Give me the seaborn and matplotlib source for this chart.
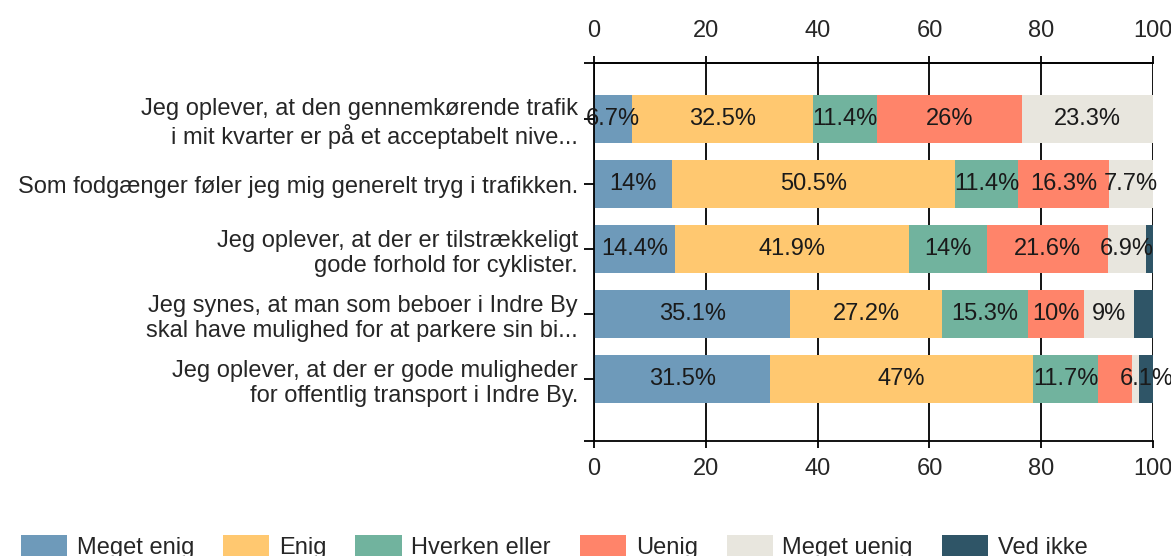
import numpy as np
import pandas as pd
import matplotlib.pyplot as plt
import seaborn as sns

# Survey statements (top to bottom)
questions = [
    "Jeg oplever, at den gennemkørende trafik\ni mit kvarter er på et acceptabelt nive...",
    "Som fodgænger føler jeg mig generelt tryg i trafikken.",
    "Jeg oplever, at der er tilstrækkeligt\ngode forhold for cyklister.",
    "Jeg synes, at man som beboer i Indre By\nskal have mulighed for at parkere sin bi...",
    "Jeg oplever, at der er gode muligheder\nfor offentlig transport i Indre By.",
]
answers = ["Meget enig", "Enig", "Hverken eller", "Uenig", "Meget uenig", "Ved ikke"]
colors = ["#6e9aba", "#ffc870", "#71b39e", "#ff846a", "#e8e6de", "#2f5567"]

# Percentages per answer (one value per statement)
meget_enig = [6.7, 14, 14.4, 35.1, 31.5]
enig = [32.5, 50.5, 41.9, 27.2, 47]
hverken = [11.4, 11.4, 14, 15.3, 11.7]
uenig = [26, 16.3, 21.6, 10, 6.1]
meget_uenig = [23.3, 7.7, 6.9, 9, 1.2]
ved_ikke = [0.4, 0.4, 1.3, 3.4, 2.5]

values = np.array([meget_enig, enig, hverken, uenig, meget_uenig, ved_ikke]).T
cum = values.cumsum(axis=1)

sns.set_style("white")
plt.rcParams["font.family"] = ["Liberation Sans", "DejaVu Sans"]
FS = 17

fig = plt.figure(figsize=(11.71, 5.56), dpi=100)
ax = fig.add_axes([0.5073, 0.2068, 0.4774, 0.68])

# stacked bars: draw cumulative totals from the last layer to the first
for i in range(len(answers) - 1, -1, -1):
    df = pd.DataFrame({"question": questions, "value": cum[:, i]})
    sns.barplot(data=df, x="value", y="question", color=colors[i], saturation=1,
                width=0.74, errorbar=None, linewidth=0, ax=ax, label=answers[i], zorder=2)

handles, labels = ax.get_legend_handles_labels()
if ax.legend_ is not None:
    ax.legend_.remove()

# value labels centred in segments
for r in range(len(questions)):
    for i in range(len(answers)):
        v = values[r, i]
        if v < 5:
            continue
        xc = cum[r, i] - v / 2
        if r == 4 and i == 3:
            xc += 5.6  # label nudged right in the original
        ax.text(xc, r, f"{v:g}%", ha="center", va="center", fontsize=FS,
                color="#1a1a1a", zorder=3, clip_on=False)

ax.set_xlim(0, 100)
ax.set_ylim(4.955, -0.87)
ax.set_xticks(range(0, 101, 20))
ax.set_axisbelow(True)
ax.grid(axis="x", color="black", lw=1.3)
ax.set_xlabel("")
ax.set_ylabel("")

for s in ["left", "top", "bottom"]:
    ax.spines[s].set_color("black")
    ax.spines[s].set_linewidth(1.3)
ax.spines["right"].set_visible(False)

ax.tick_params(axis="x", direction="out", length=5, width=1.3, color="black",
               labelsize=FS, pad=7, bottom=True)
ax.tick_params(axis="y", direction="out", length=7.5, width=1.3, color="black",
               labelsize=FS, pad=4, left=True)
ax.set_yticks([-0.87, 4.955], minor=True)
ax.tick_params(axis="y", which="minor", direction="out", length=7.5, width=1.3, color="black", left=True)
for lbl in ax.get_yticklabels():
    lbl.set_multialignment("right")

top = ax.secondary_xaxis("top")
top.set_xticks(range(0, 101, 20))
top.tick_params(direction="out", length=5, width=1.3, color="black", labelsize=FS, pad=10)
top.spines["top"].set_linewidth(1.3)

order = [labels.index(a) for a in answers]
fig.legend([handles[k] for k in order], answers, loc="upper left",
           bbox_to_anchor=(0.018, 1 - 535 / 556), ncol=6, frameon=False,
           fontsize=FS, handlelength=1.95, handleheight=1.1, handletextpad=0.42,
           columnspacing=1.22, borderaxespad=0, borderpad=0)

fig.savefig("out.png", dpi=100)
